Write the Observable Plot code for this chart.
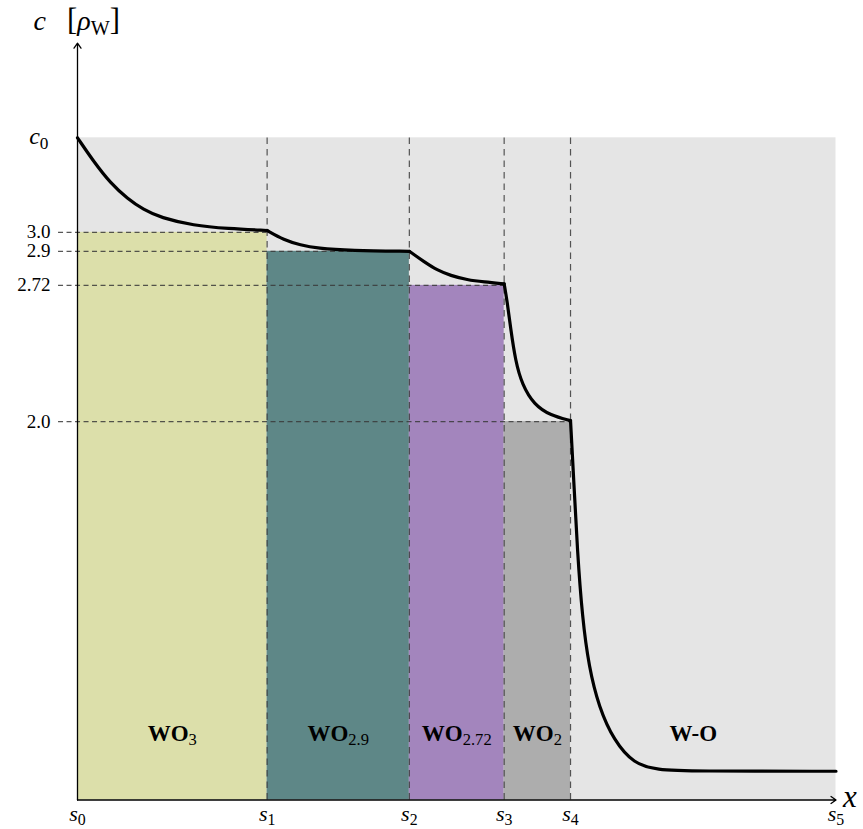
<!DOCTYPE html>
<html>
<head>
<meta charset="utf-8">
<script src="https://cdn.jsdelivr.net/npm/d3@7"></script>
<script src="https://cdn.jsdelivr.net/npm/@observablehq/plot@0.6"></script>
<style>
  body { margin: 0; background: #fff; }
  svg { display: block; }
  svg text { font-family: "Liberation Serif", "DejaVu Serif", serif; }
</style>
</head>
<body>
<div id="chart"></div>
<script>
// Interface positions s0 … s5 along the depth axis
const boundaries = [0, 1, 1.75, 2.25, 2.6, 4.0];
const boundaryLabels = ["*s*_{0}", "*s*_{1}", "*s*_{2}", "*s*_{3}", "*s*_{4}", "*s*_{5}"];

// Surface concentration and the equilibrium level of each oxide phase
const c0 = 3.5;
const phaseLevels = [3.0, 2.9, 2.72, 2.0];
const levelLabels = ["3.0", "2.9", "2.72", "2.0"];
const phaseNames = ["WO_{3}", "WO_{2.9}", "WO_{2.72}", "WO_{2}"];
const metalName = "W-O";
const phaseColors = ["#dcdfaa", "#5e8787", "#a385bd", "#adadad"];
const backgroundColor = "#e5e5e5";

// Oxygen concentration profile, one piece per layer [x, c]
const profileWO3 = [[0, 3.5], [0.084, 3.376], [0.174, 3.26], [0.264, 3.178], [0.348, 3.12],
  [0.438, 3.078], [0.612, 3.036], [0.791, 3.02], [1.0, 3.01]];
const profileWO29 = [[1.0, 3.01], [1.088, 2.96], [1.176, 2.933], [1.264, 2.916], [1.44, 2.904],
  [1.75, 2.9]];
const profileWO272 = [[1.75, 2.9], [1.827, 2.845], [1.897, 2.8], [1.967, 2.772], [2.055, 2.749],
  [2.143, 2.738], [2.25, 2.728]];
const profileWO2 = [[2.25, 2.728], [2.266, 2.634], [2.284, 2.494], [2.31, 2.318], [2.345, 2.195],
  [2.407, 2.09], [2.495, 2.032], [2.6, 2.005]];
const profileWO = [[2.6, 2.005], [2.618, 1.671], [2.636, 1.319], [2.662, 0.966], [2.697, 0.702],
  [2.75, 0.49], [2.829, 0.314], [2.934, 0.191], [3.057, 0.159], [3.233, 0.152], [4.0, 0.152]];

const profile = [profileWO3, profileWO29, profileWO272, profileWO2, profileWO]
  .flatMap((seg, k) => seg.map(([x, c]) => ({x, c, seg: k})));

const layers = phaseLevels.map((level, i) => ({
  x1: boundaries[i], x2: boundaries[i + 1], level, name: phaseNames[i], fill: phaseColors[i]
}));

const dash = {stroke: "#3a3a3a", strokeWidth: 1.2, strokeOpacity: 0.85};

const plot = Plot.plot({
  width: 863,
  height: 829,
  marginLeft: 77,
  marginRight: 27.5,
  marginTop: 42.7,
  marginBottom: 29.5,
  x: {domain: [0, 4], axis: null},
  y: {domain: [0, 4], axis: null},
  style: {fontFamily: "'Liberation Serif', serif", background: "#fff", color: "#000", overflow: "visible"},
  marks: [
    Plot.rect([{x1: boundaries[0], x2: boundaries[5], c: c0}],
      {x1: "x1", x2: "x2", y1: 0, y2: "c", fill: backgroundColor}),
    Plot.rect(layers, {x1: "x1", x2: "x2", y1: 0, y2: "level", fill: "fill"}),
    Plot.ruleY(layers, {y: "level", x1: () => -0.1, x2: "x2", ...dash, strokeDasharray: "5,3.5"}),
    Plot.ruleX(boundaries.slice(1, 5), {x: d => d, y1: 0, y2: c0, ...dash, strokeDasharray: "6.5,5"}),
    Plot.line(profile, {x: "x", y: "c", z: "seg", curve: "basis", stroke: "#000",
      strokeWidth: 3.2, strokeLinecap: "round", strokeLinejoin: "round"}),
    Plot.arrow([{x1: 0, y1: 0, x2: boundaries[5], y2: 0}, {x1: 0, y1: 0, x2: 0, y2: 4}],
      {x1: "x1", y1: "y1", x2: "x2", y2: "y2", stroke: "#000", strokeWidth: 1.3,
       headLength: 7, headAngle: 70}),
    // level ticks
    Plot.text(phaseLevels, {x: 0, y: d => d, text: (d, i) => levelLabels[i], dx: -27,
      textAnchor: "end", fontSize: 19}),
    Plot.text([c0], {x: 0, y: d => d, text: () => "*c*_{0}", dx: -29, dy: -1, textAnchor: "end", fontSize: 24}),
    // interface ticks
    Plot.text(boundaries, {x: d => d, y: 0, text: (d, i) => boundaryLabels[i], dy: 14, fontSize: 22}),
    // phase names
    Plot.text(layers, {x: d => (d.x1 + d.x2) / 2, y: 0.35, text: "name", fontSize: 23, fontWeight: "bold"}),
    Plot.text([metalName], {x: (boundaries[4] + boundaries[5]) / 2, y: 0.35, text: d => d, dx: -10,
      fontSize: 23, fontWeight: "bold"}),
    // axis titles
    Plot.text(["*x*"], {x: boundaries[5], y: 0, text: d => d, dx: 7, dy: -3, textAnchor: "start", fontSize: 31}),
    Plot.text(["*c*\u00a0\u00a0\u00a0#{[}*ρ*_{W}#{]}"], {x: 0, y: 4, text: d => d, dx: -44, dy: -22,
      textAnchor: "start", fontSize: 28})
  ]
});

document.getElementById("chart").appendChild(plot);

// Label markup: *…* italic, _{…} subscript, #{…} enlarged delimiter
const svgNS = "http://www.w3.org/2000/svg";
d3.select(plot).selectAll("text").each(function () {
  const src = this.textContent;
  if (!/[*_#]/.test(src)) return;
  const size = parseFloat(getComputedStyle(this).fontSize) || 20;
  const shift = size * 0.17;
  const re = /\*([^*]+)\*|_\{([^}]*)\}|#\{([^}]*)\}|([^*_#]+)/g;
  const parts = [];
  let m;
  while ((m = re.exec(src))) {
    if (m[1] !== undefined) parts.push({t: m[1], it: true});
    else if (m[2] !== undefined) parts.push({t: m[2], sub: true});
    else if (m[3] !== undefined) parts.push({t: m[3], big: true});
    else parts.push({t: m[4]});
  }
  this.textContent = "";
  let down = false;
  for (const p of parts) {
    const ts = document.createElementNS(svgNS, "tspan");
    ts.textContent = p.t;
    if (p.it) ts.setAttribute("font-style", "italic");
    if (p.big) ts.setAttribute("font-size", (size * 1.1) + "px");
    if (p.sub) {
      ts.setAttribute("font-size", (size * 0.72) + "px");
      ts.setAttribute("font-weight", "normal");
      ts.setAttribute("font-style", "normal");
      if (!down) { ts.setAttribute("dy", shift); down = true; }
    } else if (down) {
      ts.setAttribute("dy", -shift);
      down = false;
    }
    this.appendChild(ts);
  }
});
</script>
</body>
</html>
